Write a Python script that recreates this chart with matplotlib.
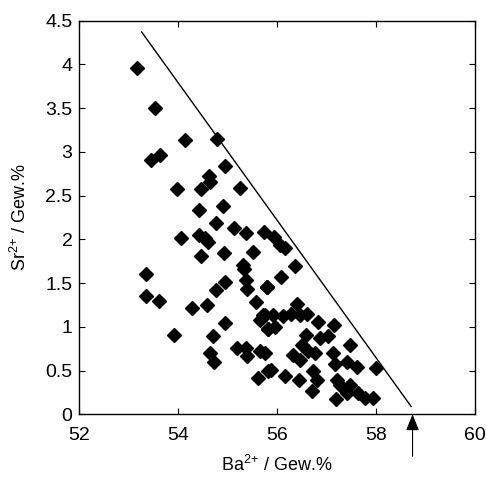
import matplotlib
matplotlib.use("Agg")
import matplotlib.pyplot as plt

plt.rcParams['font.family'] = ['Liberation Sans', 'DejaVu Sans']
plt.rcParams['mathtext.fontset'] = 'custom'
plt.rcParams['mathtext.rm'] = 'Liberation Sans'

# Ba2+ (x) and Sr2+ (y) contents, Gew.%
ba = [53.16, 53.52, 54.14, 54.79, 53.44, 53.63, 54.95, 54.63, 54.64, 53.98,
      54.47, 55.25, 54.42, 54.90, 54.76, 55.13, 55.37, 55.73, 54.06, 54.41,
      54.54, 54.61, 54.47, 54.93, 55.52, 55.30, 55.33, 53.34, 54.95, 54.76,
      55.37, 55.40, 55.79, 53.34, 53.61, 54.27, 54.58, 55.57, 55.65, 55.75,
      55.81, 54.95, 53.91, 54.71, 55.18, 55.38, 55.40, 55.65, 55.75, 54.64,
      54.73, 55.61, 55.82, 55.94, 56.06, 56.16, 56.36, 56.07, 55.80, 56.40,
      55.72, 55.92, 56.12, 56.29, 56.46, 56.60, 55.82, 55.96, 56.83, 57.15,
      56.58, 56.87, 57.03, 56.50, 57.47, 56.33, 56.46, 56.63, 56.77, 57.14,
      57.17, 57.42, 57.62, 58.01, 55.87, 56.16, 56.44, 56.73, 56.80, 57.22,
      57.27, 57.47, 56.70, 57.19, 57.42, 57.64, 57.78, 57.94]
sr = [3.96, 3.50, 3.13, 3.15, 2.91, 2.96, 2.84, 2.72, 2.66, 2.57,
      2.57, 2.59, 2.33, 2.38, 2.19, 2.13, 2.07, 2.08, 2.01, 2.05,
      2.01, 1.97, 1.81, 1.84, 1.85, 1.71, 1.66, 1.60, 1.51, 1.42,
      1.53, 1.43, 1.46, 1.35, 1.29, 1.22, 1.25, 1.28, 1.08, 1.13,
      0.97, 1.04, 0.91, 0.90, 0.76, 0.76, 0.67, 0.72, 0.70, 0.70,
      0.60, 0.42, 0.49, 2.03, 1.93, 1.90, 1.69, 1.57, 1.45, 1.26,
      1.13, 1.13, 1.12, 1.15, 1.13, 1.15, 0.98, 1.00, 1.05, 1.02,
      0.91, 0.87, 0.89, 0.79, 0.79, 0.68, 0.62, 0.72, 0.70, 0.70,
      0.58, 0.60, 0.54, 0.53, 0.51, 0.44, 0.39, 0.49, 0.39, 0.39,
      0.33, 0.33, 0.27, 0.17, 0.24, 0.24, 0.18, 0.18]

# limit line and marked end point
line_x = [53.26, 58.71]
line_y = [4.37, 0.09]
arrow_x = 58.74

fig = plt.figure(figsize=(4.87, 4.80), dpi=100)
ax = fig.add_axes([0.163, 0.137, 0.812, 0.820])

ax.plot(ba, sr, linestyle='none', marker='D', markersize=7.2,
        markerfacecolor='black', markeredgecolor='black')
ax.plot(line_x, line_y, color='black', linewidth=1.0)

ax.annotate('', xy=(arrow_x, 0.0), xytext=(arrow_x, -0.48),
            xycoords='data', textcoords='data', annotation_clip=False,
            arrowprops=dict(arrowstyle='-|>,head_length=1.0,head_width=0.4',
                            color='black', linewidth=0.8, shrinkA=0, shrinkB=0))

ax.set_xlim(52, 60)
ax.set_ylim(0, 4.5)
ax.set_xticks([52, 54, 56, 58, 60])
ax.set_yticks([0, 0.5, 1, 1.5, 2, 2.5, 3, 3.5, 4, 4.5])
ax.set_yticklabels(['0', '0.5', '1', '1.5', '2', '2.5', '3', '3.5', '4', '4.5'])
ax.tick_params(direction='in', top=True, right=True, length=4, width=0.8,
               labelsize=14)
ax.tick_params(axis='x', pad=9)
ax.tick_params(axis='y', pad=5)
for s in ax.spines.values():
    s.set_linewidth(1.0)

ax.set_xlabel(r'Ba$^{2{+}}$ / Gew.%', fontsize=13, labelpad=8)
ax.set_ylabel(r'Sr$^{2{+}}$ / Gew.%', fontsize=13, labelpad=11)

fig.savefig('out.png', dpi=100)
